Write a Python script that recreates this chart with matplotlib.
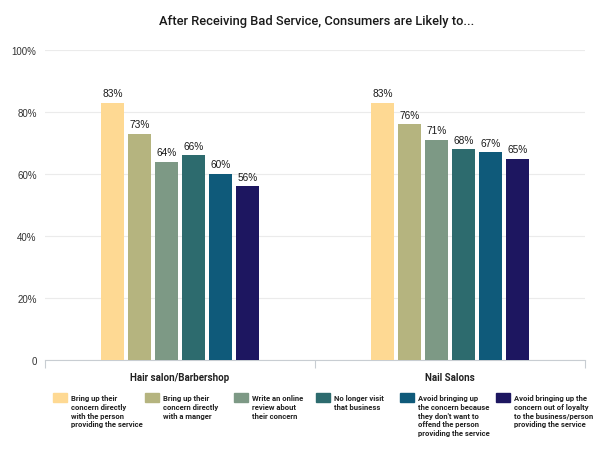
import matplotlib.pyplot as plt
from matplotlib.patches import Rectangle
import numpy as np

categories = ["Hair salon/Barbershop", "Nail Salons"]
series = [
    "Bring up their\nconcern directly\nwith the person\nproviding the service",
    "Bring up their\nconcern directly\nwith a manger",
    "Write an online\nreview about\ntheir concern",
    "No longer visit\nthat business",
    "Avoid bringing up\nthe concern because\nthey don't want to\noffend the person\nproviding the service",
    "Avoid bringing up the\nconcern out of loyalty\nto the business/person\nproviding the service",
]
hair = [83, 73, 64, 66, 60, 56]
nail = [83, 76, 71, 68, 67, 65]
colors = ["#FED993", "#B5B47F", "#7D9985", "#2D6B6E", "#0F5A7A", "#1D1660"]

fig = plt.figure(figsize=(6.03, 4.52), dpi=100)
ax = fig.add_axes([45 / 603, 1 - 361 / 452, 540 / 603, 310 / 452])

x = np.arange(len(categories))
slot = 0.1
width = 0.083
for i in range(len(series)):
    vals = [hair[i], nail[i]]
    pos = x + (i - 2.5) * slot
    bars = ax.bar(pos, vals, width, color=colors[i], zorder=3)
    for b, v in zip(bars, vals):
        ax.text(b.get_x() + b.get_width() / 2, v + 1.5, f"{v}%", ha="center", va="bottom",
                fontsize=7.3, family="Liberation Sans", color="#1A1A1A")

ax.set_xlim(-0.5, 1.5)
ax.set_ylim(0, 100)
ax.set_yticks([0, 20, 40, 60, 80, 100])
ax.set_yticklabels(["0", "20%", "40%", "60%", "80%", "100%"], family="Liberation Sans",
                   fontsize=7, color="#333333")
ax.yaxis.grid(True, color="#EBEBEB", linewidth=0.8, zorder=0)
ax.tick_params(axis="y", length=0, pad=6)

ax.set_xticks([-0.5, 0.5, 1.5])
ax.set_xticklabels([])
ax.tick_params(axis="x", length=6, color="#C8CDD2", width=0.8, direction="out")
for i, c in enumerate(categories):
    ax.text(x[i], -4, c, ha="center", va="top", fontsize=7, family="Roboto",
            fontweight="bold", color="#222222")

for s in ["top", "right", "left"]:
    ax.spines[s].set_visible(False)
ax.spines["bottom"].set_color("#C8CDD2")
ax.spines["bottom"].set_linewidth(0.8)

fig.text(317 / 603, 1 - 22 / 452, "After Receiving Bad Service, Consumers are Likely to...",
         ha="center", va="center", fontsize=9.3, family="Roboto", fontweight="medium",
         color="#1A1A1A")

# legend
leg_x = [53, 145, 234, 316, 400, 496]
for i, lbl in enumerate(series):
    fig.add_artist(Rectangle((leg_x[i] / 603, 1 - 403 / 452), 14 / 603, 9 / 452,
                             transform=fig.transFigure, color=colors[i]))
    fig.text((leg_x[i] + 18) / 603, 1 - 395 / 452, lbl, ha="left", va="top",
             fontsize=5.5, family="Roboto", fontweight="bold", color="#222222",
             linespacing=1.3)

fig.savefig("out.png", dpi=100)
